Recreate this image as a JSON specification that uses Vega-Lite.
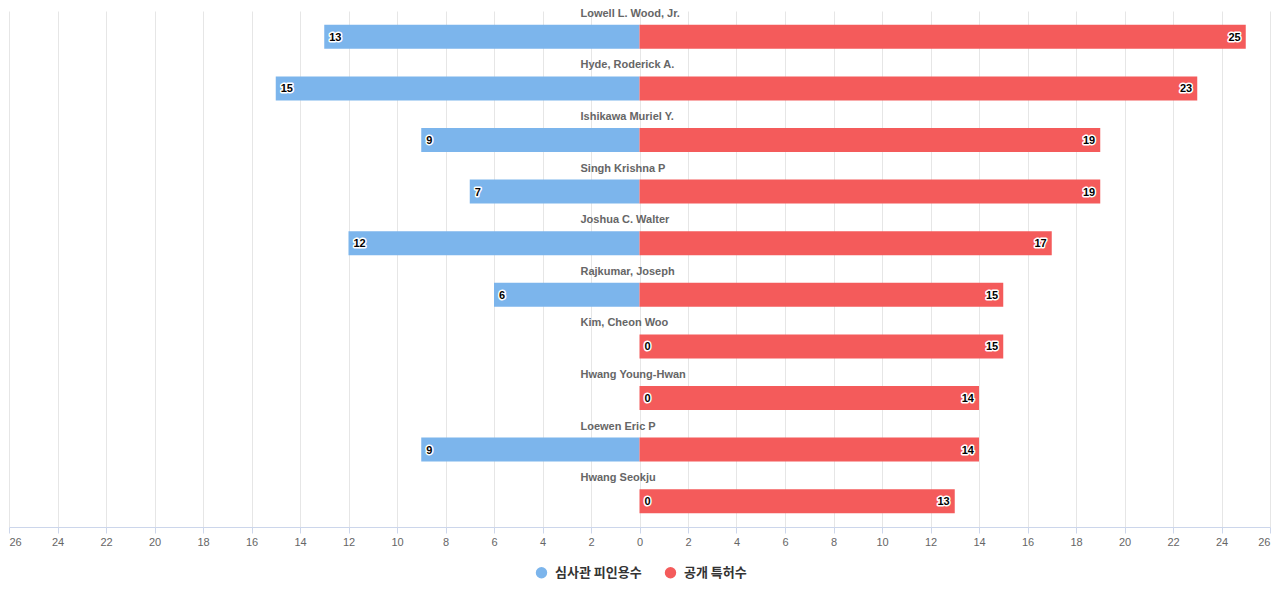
{
  "$schema": "https://vega.github.io/schema/vega-lite/v6.json",
  "width": 1261,
  "height": 516,
  "autosize": {"type": "none"},
  "padding": {"left": 9, "top": 11, "right": 10, "bottom": 73},
  "background": "#ffffff",
  "config": {
    "view": {"stroke": null},
    "font": "Liberation Sans"
  },
  "data": {
    "values": [
      {"name": "Lowell L. Wood, Jr.", "type": "심사관 피인용수", "value": 13},
      {"name": "Lowell L. Wood, Jr.", "type": "공개 특허수", "value": 25},
      {"name": "Hyde, Roderick A.", "type": "심사관 피인용수", "value": 15},
      {"name": "Hyde, Roderick A.", "type": "공개 특허수", "value": 23},
      {"name": "Ishikawa Muriel Y.", "type": "심사관 피인용수", "value": 9},
      {"name": "Ishikawa Muriel Y.", "type": "공개 특허수", "value": 19},
      {"name": "Singh Krishna P", "type": "심사관 피인용수", "value": 7},
      {"name": "Singh Krishna P", "type": "공개 특허수", "value": 19},
      {"name": "Joshua C. Walter", "type": "심사관 피인용수", "value": 12},
      {"name": "Joshua C. Walter", "type": "공개 특허수", "value": 17},
      {"name": "Rajkumar, Joseph", "type": "심사관 피인용수", "value": 6},
      {"name": "Rajkumar, Joseph", "type": "공개 특허수", "value": 15},
      {"name": "Kim, Cheon Woo", "type": "심사관 피인용수", "value": 0},
      {"name": "Kim, Cheon Woo", "type": "공개 특허수", "value": 15},
      {"name": "Hwang Young-Hwan", "type": "심사관 피인용수", "value": 0},
      {"name": "Hwang Young-Hwan", "type": "공개 특허수", "value": 14},
      {"name": "Loewen Eric P", "type": "심사관 피인용수", "value": 9},
      {"name": "Loewen Eric P", "type": "공개 특허수", "value": 14},
      {"name": "Hwang Seokju", "type": "심사관 피인용수", "value": 0},
      {"name": "Hwang Seokju", "type": "공개 특허수", "value": 13}
    ]
  },
  "transform": [
    {"calculate": "datum.type === '심사관 피인용수' ? -datum.value : datum.value", "as": "pos"}
  ],
  "encoding": {
    "y": {
      "field": "name",
      "type": "nominal",
      "sort": null,
      "scale": {"paddingInner": 0.535, "paddingOuter": 0.2675},
      "axis": null
    }
  },
  "layer": [
    {
      "mark": {"type": "bar"},
      "encoding": {
        "x": {
          "field": "pos",
          "type": "quantitative",
          "scale": {"domain": [-26, 26], "nice": false},
          "axis": {
            "title": null,
            "values": [-26,-24,-22,-20,-18,-16,-14,-12,-10,-8,-6,-4,-2,0,2,4,6,8,10,12,14,16,18,20,22,24,26],
            "labelExpr": "abs(datum.value)",
            "labelFlush": true,
            "labelFont": "Liberation Sans",
            "labelFontSize": 11,
            "labelColor": "#666666",
            "labelPadding": 3,
            "domainColor": "#ccd6eb",
            "tickColor": "#ccd6eb",
            "tickSize": 6,
            "grid": true,
            "gridColor": "#e6e6e6",
            "gridWidth": 1
          }
        },
        "x2": {"datum": 0},
        "color": {
          "field": "type",
          "type": "nominal",
          "scale": {"domain": ["심사관 피인용수", "공개 특허수"], "range": ["#7cb5ec", "#f45b5b"]},
          "legend": {
            "title": null,
            "orient": "none",
            "legendX": 526,
            "legendY": 555,
            "direction": "horizontal",
            "symbolType": "circle",
            "symbolSize": 130,
            "symbolStrokeWidth": 0,
            "labelFont": "Noto Sans CJK KR",
            "labelFontSize": 13,
            "labelFontWeight": "bold",
            "labelColor": "#333333",
            "columnPadding": 22,
            "labelOffset": 7
          }
        }
      }
    },
    {
      "transform": [{"filter": "datum.type === '공개 특허수'"}],
      "mark": {"type": "text", "align": "left", "baseline": "alphabetic", "dx": -59, "dy": -20, "font": "Liberation Sans", "fontSize": 11, "fontWeight": "bold", "color": "#666666"},
      "encoding": {
        "x": {"datum": 0},
        "text": {"field": "name"}
      }
    },
    {
      "transform": [{"filter": "datum.type === '심사관 피인용수'"}],
      "mark": {"type": "text", "align": "left", "baseline": "middle", "dx": 5, "dy": 1, "font": "Liberation Sans", "fontSize": 11, "fontWeight": "bold", "fill": "#ffffff", "stroke": "#ffffff", "strokeWidth": 3, "strokeJoin": "round"},
      "encoding": {"x": {"field": "pos", "type": "quantitative"}, "text": {"field": "value"}}
    },
    {
      "transform": [{"filter": "datum.type === '심사관 피인용수'"}],
      "mark": {"type": "text", "align": "left", "baseline": "middle", "dx": 5, "dy": 1, "font": "Liberation Sans", "fontSize": 11, "fontWeight": "bold", "fill": "#000000"},
      "encoding": {"x": {"field": "pos", "type": "quantitative"}, "text": {"field": "value"}}
    },
    {
      "transform": [{"filter": "datum.type === '공개 특허수'"}],
      "mark": {"type": "text", "align": "right", "baseline": "middle", "dx": -5, "dy": 1, "font": "Liberation Sans", "fontSize": 11, "fontWeight": "bold", "fill": "#ffffff", "stroke": "#ffffff", "strokeWidth": 3, "strokeJoin": "round"},
      "encoding": {"x": {"field": "pos", "type": "quantitative"}, "text": {"field": "value"}}
    },
    {
      "transform": [{"filter": "datum.type === '공개 특허수'"}],
      "mark": {"type": "text", "align": "right", "baseline": "middle", "dx": -5, "dy": 1, "font": "Liberation Sans", "fontSize": 11, "fontWeight": "bold", "fill": "#000000"},
      "encoding": {"x": {"field": "pos", "type": "quantitative"}, "text": {"field": "value"}}
    }
  ]
}
